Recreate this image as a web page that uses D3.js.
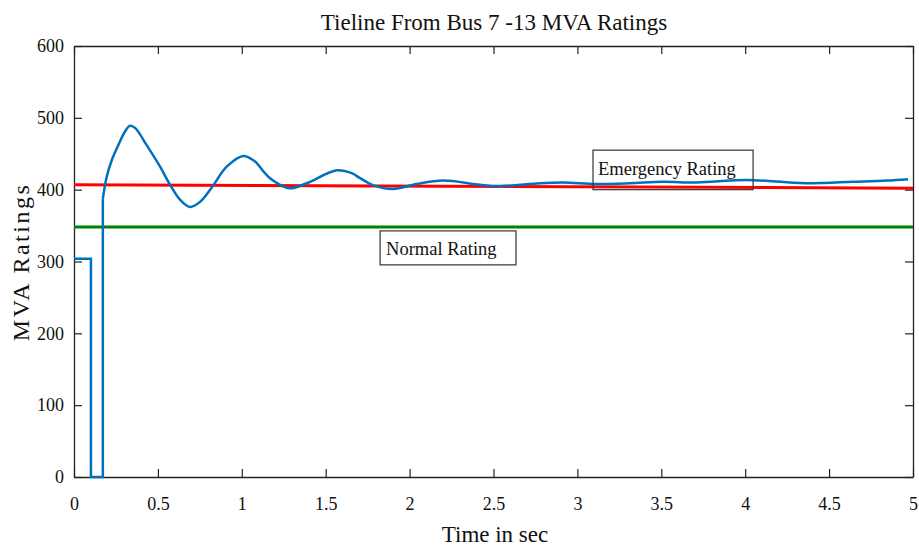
<!DOCTYPE html>
<html>
<head>
<meta charset="utf-8">
<script src="https://cdn.jsdelivr.net/npm/d3@7"></script>
<style>
  html, body { margin: 0; padding: 0; background: #fff; }
  svg { display: block; }
  text { font-family: "Liberation Serif", "DejaVu Serif", serif; fill: #111; }
</style>
</head>
<body>
<div id="chart"></div>
<script>
// Tie-line loading from bus 7 to bus 13 (MVA) over time (s)
const timeSec = [0, 0.101, 0.101, 0.172, 0.172, 0.195, 0.225, 0.264, 0.304, 0.334, 0.364,
  0.433, 0.513, 0.572, 0.632, 0.691, 0.751, 0.821, 0.910, 1.009, 1.069, 1.089, 1.168,
  1.287, 1.387, 1.566, 1.655, 1.705, 1.784, 1.901, 2.042, 2.201, 2.420, 2.539, 2.777,
  2.914, 3.115, 3.314, 3.510, 3.711, 3.910, 4.009, 4.188, 4.387, 4.643, 4.844, 4.970];
const tieLineMVA = [304, 304, 0, 0, 388, 418, 441, 462, 481, 489, 486,
  462, 432, 407, 386, 376, 383, 403, 432, 447, 441, 437, 416,
  402, 409, 427, 423, 416, 406, 401, 408, 412.6, 406.7, 405, 409,
  410, 408, 409, 411, 410, 412.7, 413.6, 411.3, 409, 411, 412.7, 414.6];

// Rating limits
const ratingTime = [0, 5];
const emergencyRating = [407, 402];
const normalRating = [348, 348];

const xTicks = [0, 0.5, 1, 1.5, 2, 2.5, 3, 3.5, 4, 4.5, 5];
const xTickLabels = ["0", "0.5", "1", "1.5", "2", "2.5", "3", "3.5", "4", "4.5", "5"];
const yTicks = [0, 100, 200, 300, 400, 500, 600];

const W = 919, H = 548;
const margin = { left: 74, right: 6, top: 46, bottom: 71 };

const svg = d3.select("#chart").append("svg").attr("width", W).attr("height", H);

const x = d3.scaleLinear().domain([0, 5]).range([margin.left, W - margin.right]);
const y = d3.scaleLinear().domain([0, 600]).range([H - margin.bottom, margin.top]);

// Axes with inward ticks on all four sides (boxed frame)
const tick = 8;
const axB = svg.append("g").attr("transform", `translate(0,${y(0)})`)
  .call(d3.axisBottom(x).tickValues(xTicks).tickSizeInner(-tick).tickSizeOuter(0)
    .tickPadding(20).tickFormat((d, i) => xTickLabels[i]));
const axL = svg.append("g").attr("transform", `translate(${x(0)},0)`)
  .call(d3.axisLeft(y).tickValues(yTicks).tickSizeInner(-tick).tickSizeOuter(0)
    .tickPadding(10));
const axT = svg.append("g").attr("transform", `translate(0,${y(600)})`)
  .call(d3.axisTop(x).tickValues(xTicks).tickSizeInner(-tick).tickSizeOuter(0).tickFormat(""));
const axR = svg.append("g").attr("transform", `translate(${x(5)},0)`)
  .call(d3.axisRight(y).tickValues(yTicks).tickSizeInner(-tick).tickSizeOuter(0).tickFormat(""));

[axB, axL, axT, axR].forEach(g => {
  g.selectAll("path.domain").attr("stroke", "#222").attr("stroke-width", 1.3);
  g.selectAll(".tick line").attr("stroke", "#222").attr("stroke-width", 1.2);
  g.selectAll(".tick text")
    .style("font-family", "'Liberation Serif', serif")
    .style("font-size", "18px").attr("fill", "#222");
});

const plot = svg.append("g");

// Rating lines
const ratingLine = d3.line().x((d, i) => x(ratingTime[i])).y(d => y(d));
plot.append("path").datum(normalRating).attr("d", ratingLine)
  .attr("fill", "none").attr("stroke", "#008000").attr("stroke-width", 3);
plot.append("path").datum(emergencyRating).attr("d", ratingLine)
  .attr("fill", "none").attr("stroke", "#ff0000").attr("stroke-width", 3);

// Tie-line flow: fault step (straight segments) followed by the damped swing
const pts = timeSec.map((t, i) => [t, tieLineMVA[i]]);
const stepEnd = 4;
const stepLine = d3.line().x(d => x(d[0])).y(d => y(d[1]));
const swingLine = d3.line().x(d => x(d[0])).y(d => y(d[1])).curve(d3.curveCatmullRom.alpha(0.5));
plot.append("path").datum(pts.slice(0, stepEnd + 1)).attr("d", stepLine)
  .attr("fill", "none").attr("stroke", "#0072bd").attr("stroke-width", 2.5);
plot.append("path").datum(pts.slice(stepEnd)).attr("d", swingLine)
  .attr("fill", "none").attr("stroke", "#0072bd").attr("stroke-width", 2.5);

// Text boxes for the rating lines (box corners in data units: t0, t1, v top, v bottom)
function noteBox(label, t0, t1, vTop, vBot, pad, baselineOff) {
  const g = svg.append("g");
  g.append("rect")
    .attr("x", x(t0)).attr("y", y(vTop))
    .attr("width", x(t1) - x(t0)).attr("height", y(vBot) - y(vTop))
    .attr("fill", "none").attr("stroke", "#333").attr("stroke-width", 1.2);
  g.append("text").attr("x", x(t0) + pad).attr("y", y(vTop) + baselineOff)
    .style("font-size", "18.5px").text(label);
}
noteBox("Emergency Rating", 3.093, 4.047, 455, 400, 5, 25);
noteBox("Normal Rating", 1.824, 2.634, 342.6, 295.3, 6, 24);

// Title and axis labels
svg.append("text").attr("x", 494).attr("y", 30).attr("text-anchor", "middle")
  .style("font-size", "23px").text("Tieline From Bus 7 -13 MVA Ratings");
svg.append("text").attr("x", 495).attr("y", 542).attr("text-anchor", "middle")
  .style("font-size", "23px").text("Time in sec");
svg.append("text").attr("transform", "translate(29,262) rotate(-90)").attr("text-anchor", "middle")
  .style("font-size", "24px").style("letter-spacing", "2.5px").text("MVA Ratings");
</script>
</body>
</html>
